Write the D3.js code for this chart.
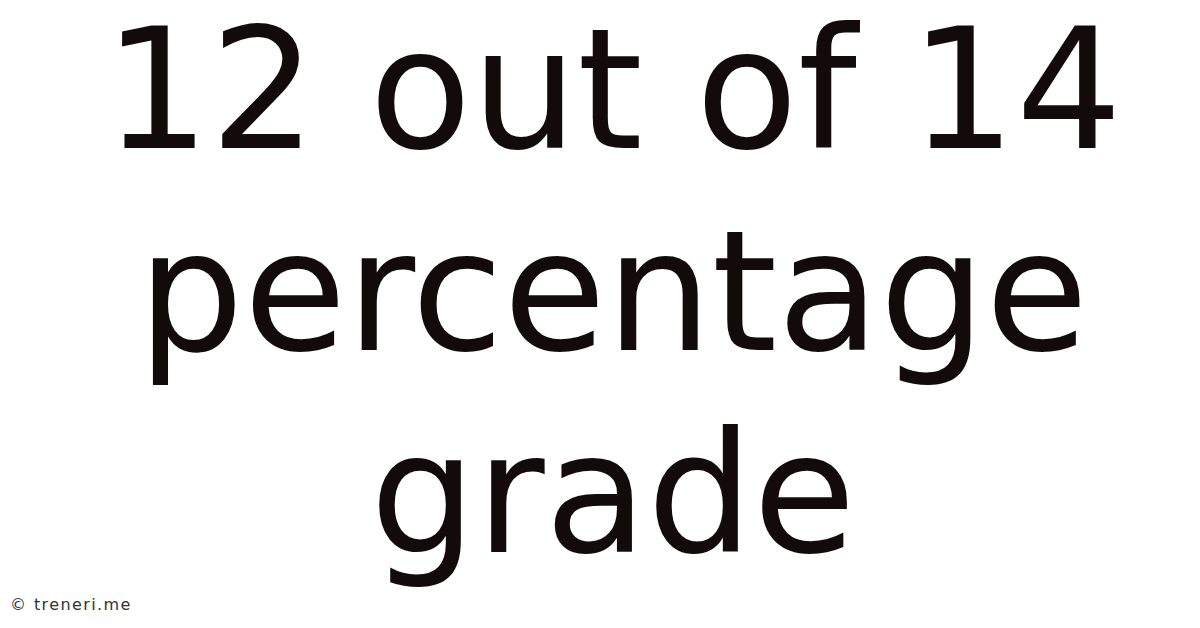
<!doctype html>
<html lang="en">
<head>
  <meta charset="utf-8">
  <title>12 out of 14 percentage grade</title>
  <style>
    html, body { margin: 0; padding: 0; background: #fff; }
  </style>
</head>
<body>
<svg id="card" width="1200" height="628"></svg>

<script src="https://d3js.org/d3.v7.min.js"></script>
<script>
    // title lines of the card
    var lines = ["12 out of 14", "percentage", "grade"];
    var credit = "\u00a9 treneri.me";

    var width = 1200;
    var height = 628;

    var svg = d3.select("#card");

    svg.append("rect")
        .attr("width", width)
        .attr("height", height)
        .attr("fill", "#ffffff");

    // one baseline per line
    var y = d3.scalePoint()
        .domain(d3.range(lines.length))
        .range([148, 552]);

    svg.selectAll("text.title")
        .data(lines)
        .enter().append("text")
        .attr("class", "title")
        .attr("x", 613)
        .attr("y", function(d, i) { return y(i); })
        .attr("text-anchor", "middle")
        .style("font-family", "'DejaVu Sans', sans-serif")
        .style("font-size", "167px")
        .style("fill", "#130a0b")
        .text(function(d) { return d; });

    svg.append("text")
        .attr("x", 10)
        .attr("y", 610)
        .style("font-family", "'DejaVu Sans', sans-serif")
        .style("font-size", "16px")
        .style("letter-spacing", "1.4px")
        .style("fill", "#333")
        .text(credit);
</script>
</body>
</html>
